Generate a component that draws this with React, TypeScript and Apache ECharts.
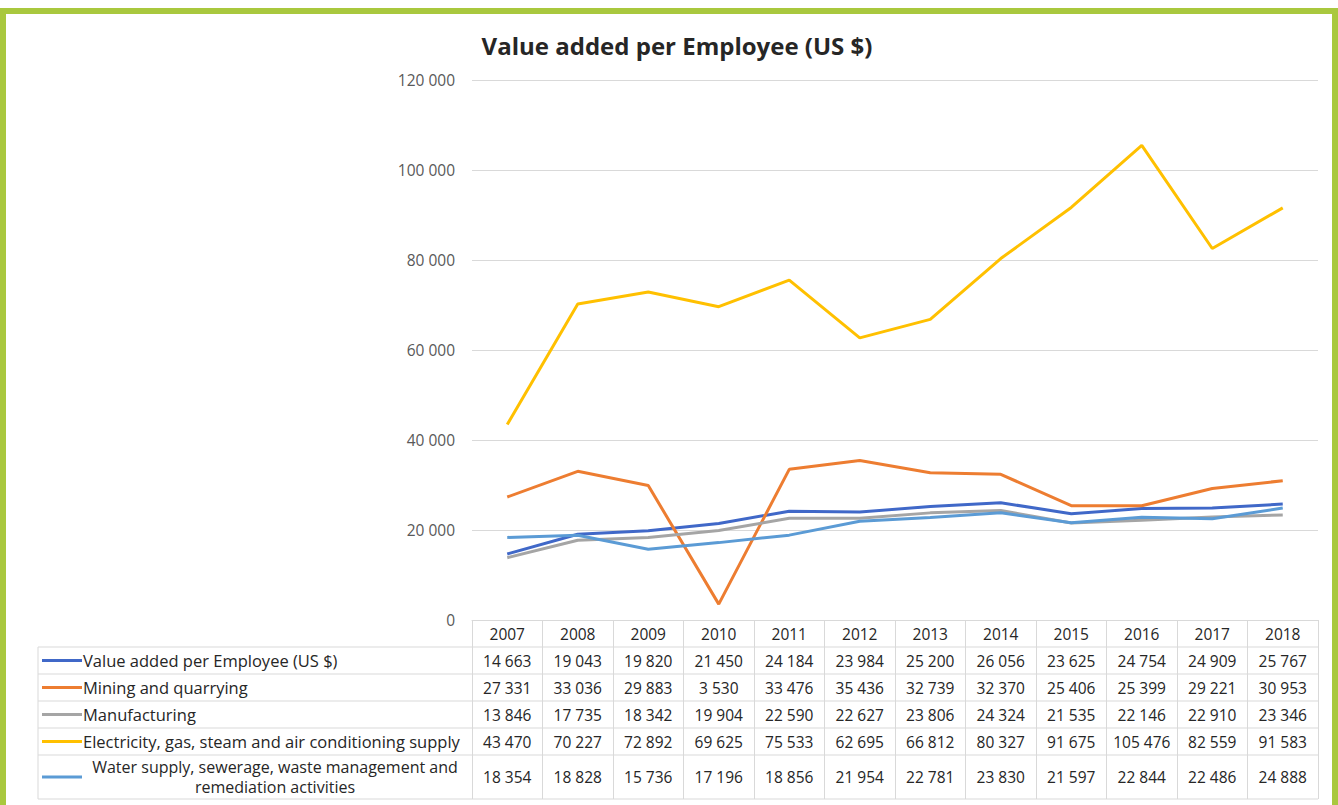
import React, { useEffect, useRef } from 'react';
import * as echarts from 'echarts';

const years = ['2007', '2008', '2009', '2010', '2011', '2012', '2013', '2014', '2015', '2016', '2017', '2018'];
const valueAdded = [14663, 19043, 19820, 21450, 24184, 23984, 25200, 26056, 23625, 24754, 24909, 25767];
const mining = [27331, 33036, 29883, 3530, 33476, 35436, 32739, 32370, 25406, 25399, 29221, 30953];
const manufacturing = [13846, 17735, 18342, 19904, 22590, 22627, 23806, 24324, 21535, 22146, 22910, 23346];
const electricity = [43470, 70227, 72892, 69625, 75533, 62695, 66812, 80327, 91675, 105476, 82559, 91583];
const water = [18354, 18828, 15736, 17196, 18856, 21954, 22781, 23830, 21597, 22844, 22486, 24888];

const seriesNames = [
  'Value added per Employee (US $)',
  'Mining and quarrying',
  'Manufacturing',
  'Electricity, gas, steam and air conditioning supply',
  'Water supply, sewerage, waste management and remediation activities',
];
const seriesData = [valueAdded, mining, manufacturing, electricity, water];
const seriesColors = ['#4068c8', '#ed7d31', '#a5a5a5', '#ffc000', '#5b9bd5'];

const yMin = 0;
const yMax = 120000;
const yInterval = 20000;

const FONT = 'Open Sans';
const fmt = (n: number) => String(n).replace(/\B(?=(\d{3})+(?!\d))/g, ' ');

export default function App() {
  const ref = useRef<HTMLDivElement>(null);
  useEffect(() => {
    document.body.style.margin = '0';
    const chart = echarts.init(ref.current!, null, { renderer: 'svg' });

    const gridLeft = 472;
    const gridRight = 20;
    const gridTop = 80;
    const gridBottom = 185;
    const W = 1338;
    const H = 805;
    const axisY = H - gridBottom;
    const headerH = 27;
    const rowH = [27, 27, 27, 27, 44];
    const tableLeft = 38;
    const tableRight = W - gridRight;

    const rowTops: number[] = [];
    let yy = axisY + headerH;
    for (let i = 0; i < rowH.length; i++) {
      rowTops.push(yy);
      yy += rowH[i];
    }
    const tableBottom = yy;

    const graphics: any[] = [];
    [...rowTops, tableBottom].forEach((y) => {
      graphics.push({
        type: 'line',
        shape: { x1: tableLeft, y1: y, x2: tableRight, y2: y },
        style: { stroke: '#d9d9d9', lineWidth: 1 },
        silent: true,
      });
    });
    graphics.push({
      type: 'line',
      shape: { x1: tableLeft, y1: rowTops[0], x2: tableLeft, y2: tableBottom },
      style: { stroke: '#d9d9d9', lineWidth: 1 },
      silent: true,
    });
    seriesNames.forEach((name, i) => {
      const cy = rowTops[i] + rowH[i] / 2;
      graphics.push({
        type: 'line',
        shape: { x1: tableLeft + 4, y1: cy, x2: 82, y2: cy },
        style: { stroke: seriesColors[i], lineWidth: 3 },
        silent: true,
      });
      const splitAt = name.indexOf(' remediation');
      if (splitAt >= 0) {
        const lines = [name.slice(0, splitAt), name.slice(splitAt + 1)];
        lines.forEach((ln, k) => {
          graphics.push({
            type: 'text',
            x: 275,
            y: cy + (k === 0 ? -10 : 10),
            style: {
              text: ln,
              fill: '#262626',
              font: `16px "${FONT}"`,
              textAlign: 'center',
              textVerticalAlign: 'middle',
            },
            silent: true,
          });
        });
      } else {
        graphics.push({
          type: 'text',
          x: 83,
          y: cy,
          style: {
            text: name,
            fill: '#262626',
            font: `16.5px "${FONT}"`,
            textAlign: 'left',
            textVerticalAlign: 'middle',
          },
          silent: true,
        });
      }
    });
    graphics.push({
      type: 'rect',
      shape: { x: 3, y: 11, width: 1332, height: 820 },
      style: { fill: 'none', stroke: '#a9c83e', lineWidth: 6 },
      silent: true,
    });

    const option: any = {
      animation: false,
      backgroundColor: '#ffffff',
      title: {
        text: 'Value added per Employee (US $)',
        left: 672,
        textAlign: 'center',
        top: 28,
        textStyle: { fontFamily: FONT, fontWeight: 'bold', fontSize: 24, color: '#262626' },
      },
      grid: { left: gridLeft, right: gridRight, top: gridTop, bottom: gridBottom, containLabel: false },
      xAxis: {
        type: 'category',
        data: years,
        boundaryGap: true,
        axisLine: { show: true, lineStyle: { color: '#d9d9d9', width: 1 } },
        axisTick: { show: true, interval: 0, length: tableBottom - axisY, lineStyle: { color: '#d9d9d9', width: 1 } },
        axisLabel: {
          interval: 0,
          margin: 0,
          verticalAlign: 'top',
          formatter: (v: string, idx: number) => {
            const parts = [`{h|${v}}`];
            seriesData.forEach((arr, si) => {
              parts.push(`{${si === seriesData.length - 1 ? 'l' : 'r'}|${fmt(arr[idx])}}`);
            });
            return parts.join('\n');
          },
          rich: {
            h: { fontFamily: FONT, fontSize: 15.5, color: '#262626', lineHeight: headerH },
            r: { fontFamily: FONT, fontSize: 15.5, color: '#262626', lineHeight: 27 },
            l: { fontFamily: FONT, fontSize: 15.5, color: '#262626', lineHeight: 44 },
          },
        },
      },
      yAxis: {
        type: 'value',
        min: yMin,
        max: yMax,
        interval: yInterval,
        axisLine: { show: false },
        axisTick: { show: false },
        splitLine: { lineStyle: { color: '#d9d9d9', width: 1 } },
        axisLabel: {
          margin: 17,
          fontFamily: FONT,
          fontSize: 15.5,
          color: '#595959',
          formatter: (v: number) => fmt(v),
        },
      },
      series: seriesNames.map((name, i) => ({
        name,
        type: 'line',
        data: seriesData[i],
        symbol: 'none',
        lineStyle: { color: seriesColors[i], width: 3 },
        itemStyle: { color: seriesColors[i] },
        z: 2 + i,
      })),
      graphic: graphics,
    };
    chart.setOption(option);
    return () => chart.dispose();
  }, []);
  return <div ref={ref} style={{ width: 1338, height: 805 }} />;
}
